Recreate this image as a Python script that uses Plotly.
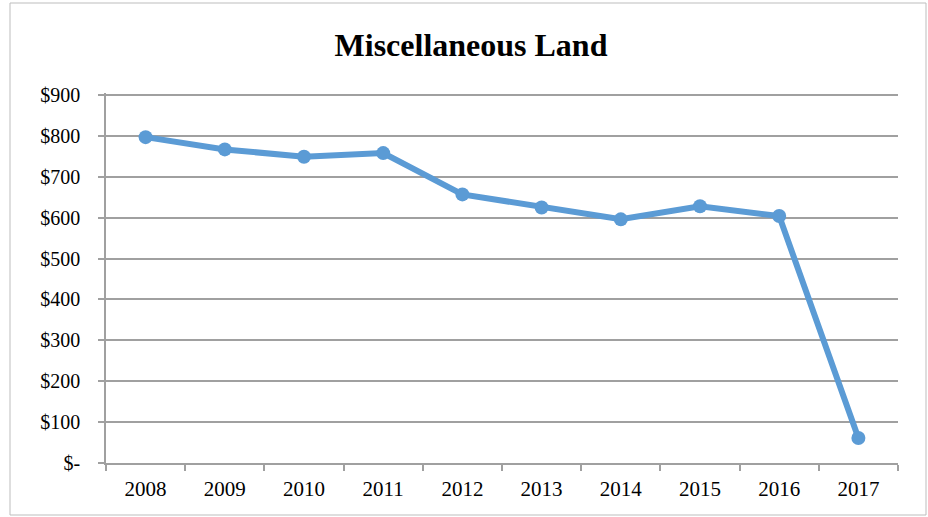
import plotly.graph_objects as go

years = ["2008", "2009", "2010", "2011", "2012", "2013", "2014", "2015", "2016", "2017"]
values = [797, 767, 749, 758, 657, 625, 596, 628, 604, 61]
y_tick_vals = [0, 100, 200, 300, 400, 500, 600, 700, 800, 900]
y_tick_text = ["$-", "$100", "$200", "$300", "$400", "$500", "$600", "$700", "$800", "$900"]

fig = go.Figure()
fig.add_trace(go.Scatter(
    x=years, y=values, mode="lines+markers",
    line=dict(color="#5B9BD5", width=6),
    marker=dict(color="#5B9BD5", size=14),
    showlegend=False,
))

grid = "#a0a0a0"
serif = "Liberation Serif"
ph = 517 - 93 - 54
fig.update_layout(
    width=928, height=517,
    margin=dict(l=106, r=30, t=93, b=54),
    paper_bgcolor="white", plot_bgcolor="white",
    title=dict(text="<b>Miscellaneous Land</b>", x=471 / 928, xref="container", xanchor="center",
               y=1 - 45 / 517, yref="container", yanchor="middle",
               font=dict(family=serif, size=32, color="black")),
    font=dict(family=serif, size=20, color="black"),
    xaxis=dict(type="category", showgrid=False, showline=True, linecolor=grid, linewidth=1.5,
               ticks="outside", tickson="boundaries", ticklen=6, tickcolor=grid, tickwidth=1.5,
               tickfont=dict(family=serif, size=21, color="black"), ticklabelstandoff=6,
               range=[-0.5, 9.5], fixedrange=True),
    yaxis=dict(range=[0, 905], tickvals=y_tick_vals, ticktext=y_tick_text,
               showgrid=True, gridcolor=grid, gridwidth=1.5,
               showline=True, linecolor=grid, linewidth=1.5,
               ticks="outside", ticklen=6, tickcolor=grid, tickwidth=1.5,
               tickfont=dict(family=serif, size=20, color="black"), ticklabelstandoff=14,
               zeroline=False, fixedrange=True),
    shapes=[dict(type="rect", xref="paper", yref="paper",
                 x0=(10 - 106) / 792, x1=(926 - 106) / 792,
                 y0=-(515 - 463) / ph, y1=(463 - 3) / ph,
                 line=dict(color="#bdbdbd", width=1), layer="below")],
)

fig.write_html("out.html", config={"displayModeBar": False},
               post_script="document.body.style.margin='0';")
